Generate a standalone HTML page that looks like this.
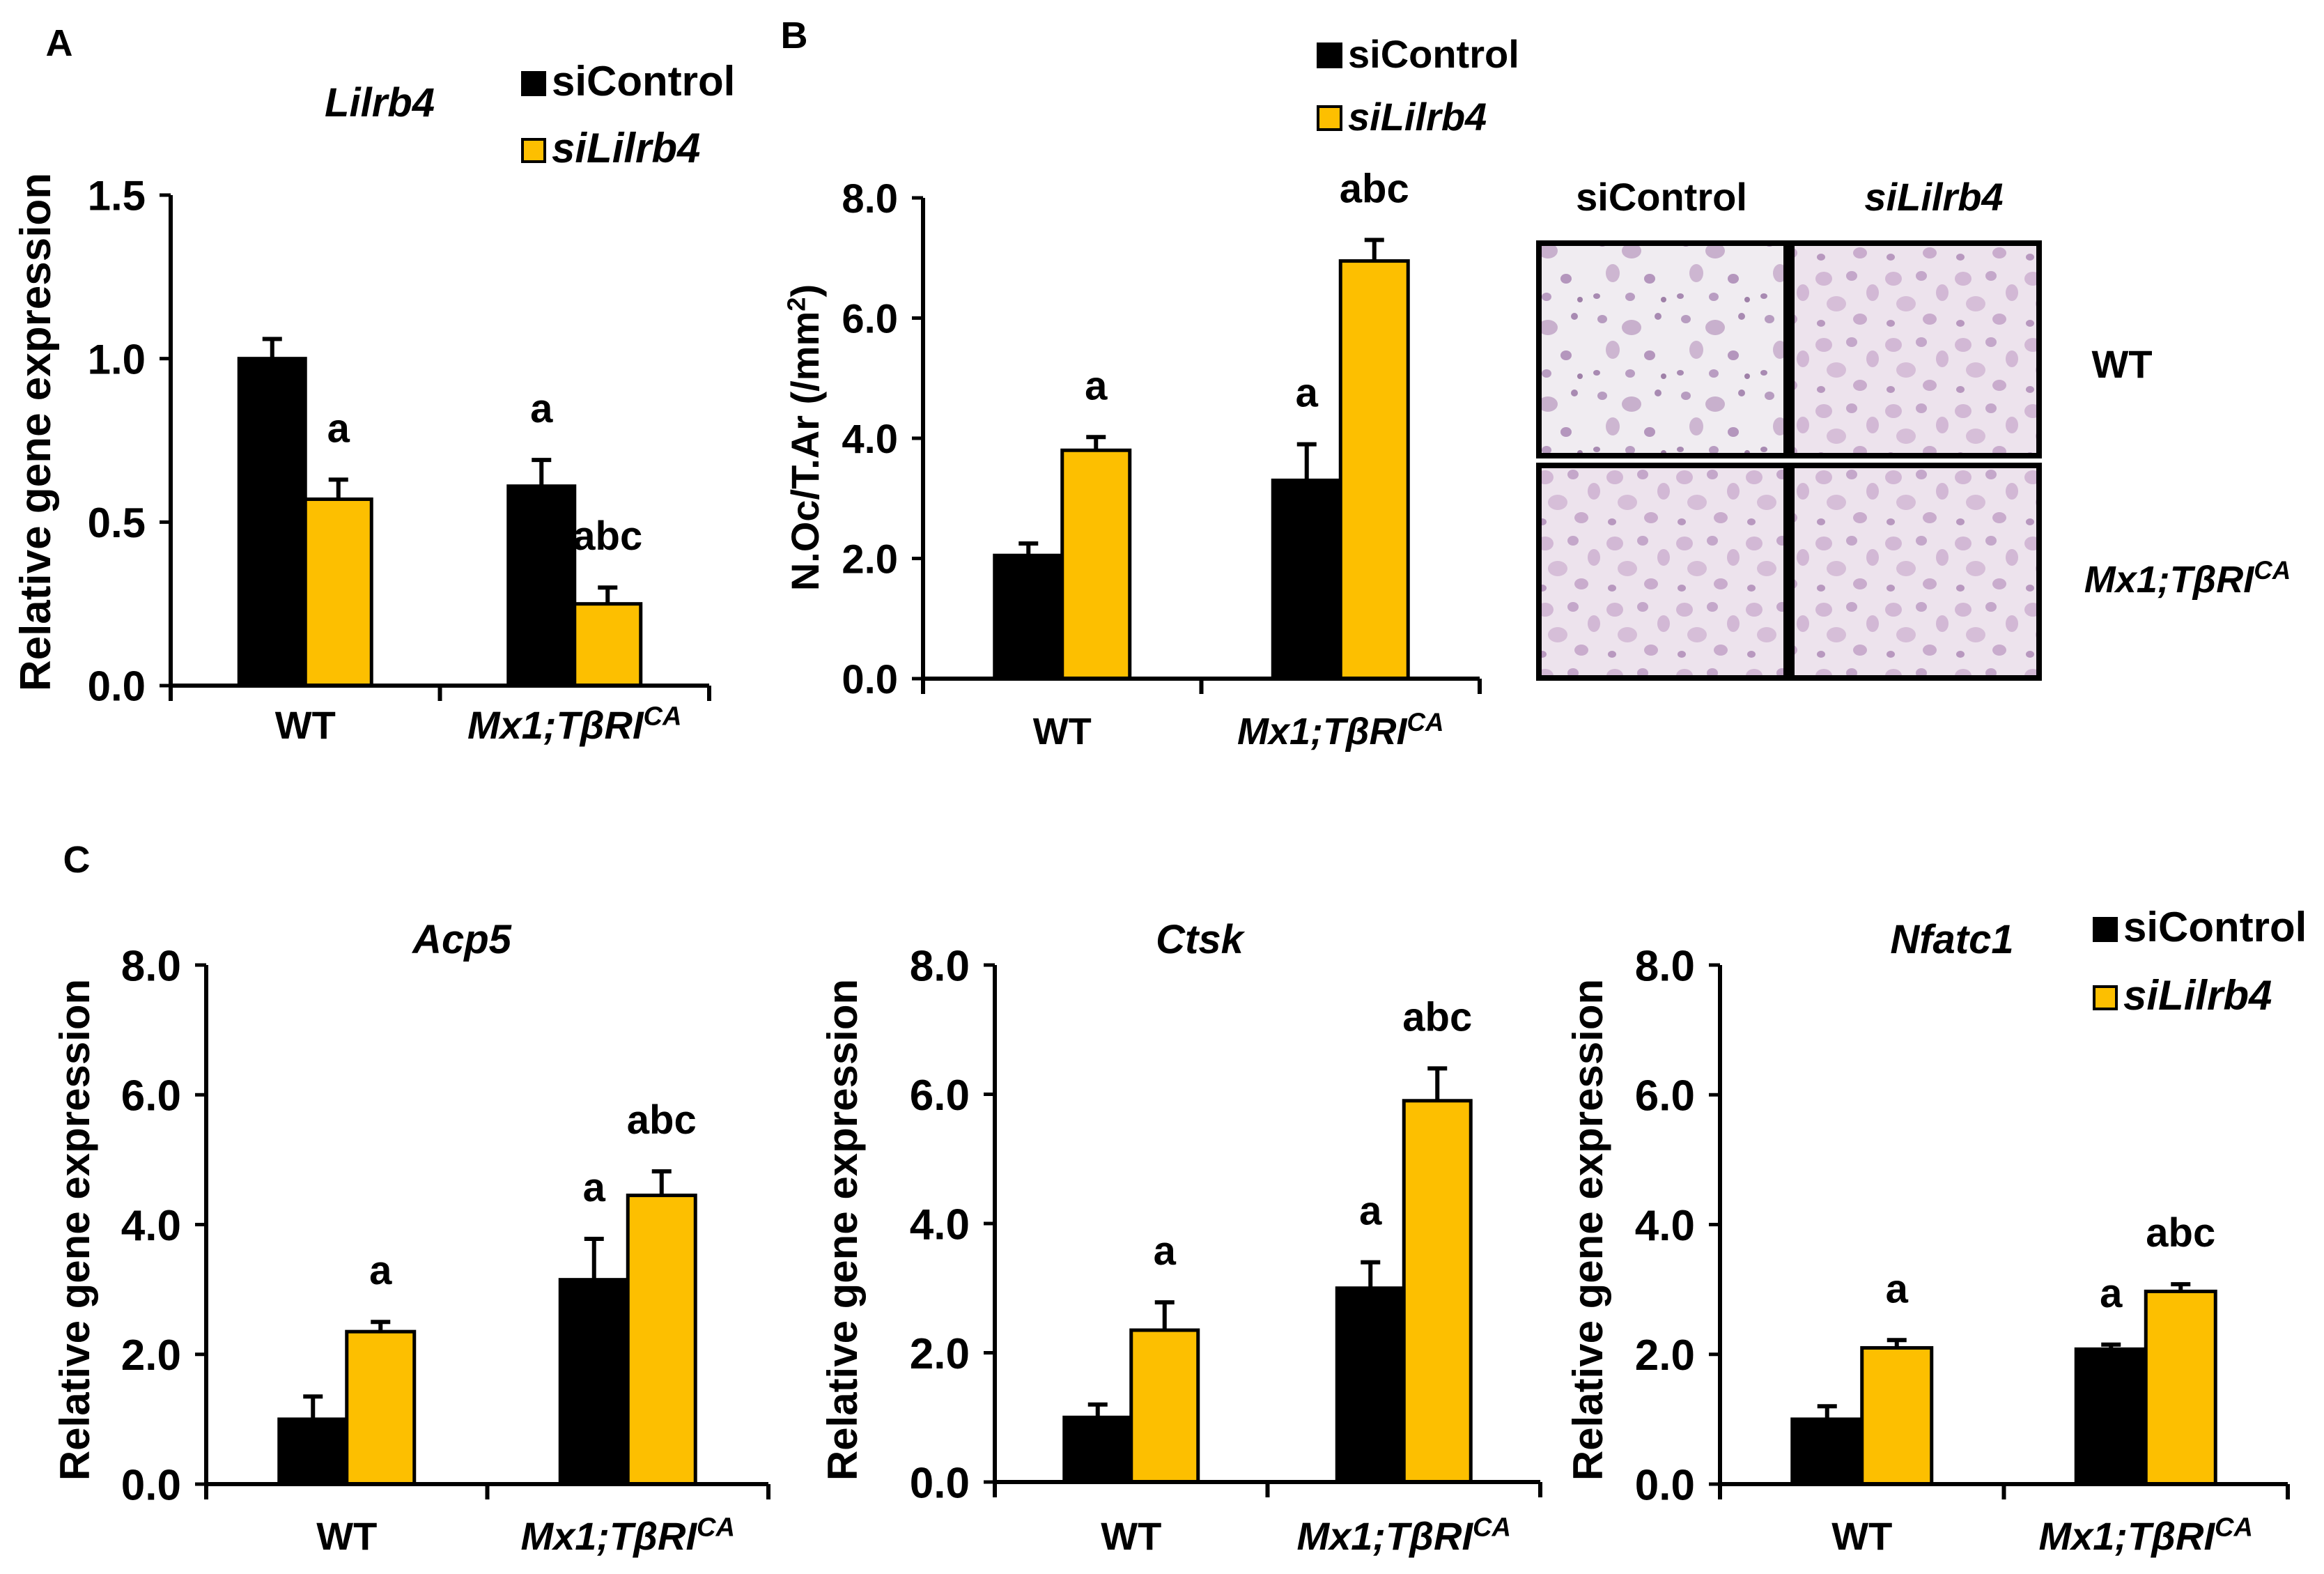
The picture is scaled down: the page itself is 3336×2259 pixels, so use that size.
<!DOCTYPE html>
<html><head><meta charset="utf-8"><title>Lilrb4 figure</title>
<style>
html,body{margin:0;padding:0;background:#fff;}
svg{display:block;}
text{font-family:"Liberation Sans",Arial,sans-serif;font-weight:bold;fill:#000;}
</style></head>
<body>
<svg id="fig" width="3336" height="2259" viewBox="0 0 3336 2259" xmlns="http://www.w3.org/2000/svg">
<defs>
<pattern id="cellsA" width="120" height="110" patternUnits="userSpaceOnUse">
<rect width="120" height="110" fill="#f0ecf1"/>
<ellipse cx="20" cy="18" rx="7" ry="6" fill="#b79cc0"/>
<ellipse cx="62" cy="30" rx="14" ry="11" fill="#c8b0cd"/>
<ellipse cx="100" cy="14" rx="5" ry="5" fill="#a88ab2"/>
<ellipse cx="35" cy="62" rx="10" ry="13" fill="#cdb6d1"/>
<ellipse cx="88" cy="70" rx="8" ry="7" fill="#b496bd"/>
<ellipse cx="12" cy="95" rx="5" ry="4" fill="#a88ab2"/>
<ellipse cx="60" cy="96" rx="7" ry="6" fill="#b99dc2"/>
<ellipse cx="108" cy="100" rx="4" ry="4" fill="#9f80a8"/>
</pattern>
<pattern id="cellsB" width="100" height="95" patternUnits="userSpaceOnUse">
<rect width="100" height="95" fill="#ede3ed"/>
<ellipse cx="18" cy="20" rx="12" ry="10" fill="#d2b8d5"/>
<ellipse cx="58" cy="16" rx="8" ry="7" fill="#c4a7ca"/>
<ellipse cx="88" cy="40" rx="9" ry="12" fill="#d2b8d5"/>
<ellipse cx="36" cy="56" rx="14" ry="11" fill="#d6bed8"/>
<ellipse cx="70" cy="78" rx="10" ry="8" fill="#c9accd"/>
<ellipse cx="14" cy="84" rx="6" ry="5" fill="#b898bf"/>
</pattern>
</defs>
<g id="root"></g>
</svg>
<script>
// ---- data ----
const groups = ["WT", "Mx1;TβRI"];
const seriesNames = ["siControl", "siLilrb4"];
const lilrb4Ctrl = [1.0, 0.61];
const lilrb4Si = [0.57, 0.25];
const lilrb4CtrlErr = [0.06, 0.08];
const lilrb4SiErr = [0.06, 0.05];
const lilrb4Ticks = [0.0, 0.5, 1.0, 1.5];
const nocCtrl = [2.05, 3.3];
const nocSi = [3.8, 6.95];
const nocCtrlErr = [0.2, 0.6];
const nocSiErr = [0.22, 0.35];
const eightTicks = [0.0, 2.0, 4.0, 6.0, 8.0];
const acp5Ctrl = [1.0, 3.15];
const acp5Si = [2.35, 4.45];
const acp5CtrlErr = [0.35, 0.63];
const acp5SiErr = [0.15, 0.37];
const ctskCtrl = [1.0, 3.0];
const ctskSi = [2.35, 5.9];
const ctskCtrlErr = [0.2, 0.4];
const ctskSiErr = [0.43, 0.5];
const nfatc1Ctrl = [1.0, 2.08];
const nfatc1Si = [2.1, 2.97];
const nfatc1CtrlErr = [0.2, 0.07];
const nfatc1SiErr = [0.12, 0.11];
const sigLetters = [["", "a"], ["a", "abc"]];

const NS = "http://www.w3.org/2000/svg";
const root = document.getElementById("root");
function mk(tag, attrs, parent) {
  const e = document.createElementNS(NS, tag);
  for (const k in attrs) e.setAttribute(k, attrs[k]);
  (parent || root).appendChild(e);
  return e;
}
function txt(s, x, y, size, parent, anchor, italic) {
  const t = mk("text", {x: x, y: y, "font-size": size, "text-anchor": anchor || "middle"}, parent);
  if (italic) t.setAttribute("font-style", "italic");
  t.textContent = s;
  return t;
}
function mxLabel(x, y, size, parent) {
  const t = mk("text", {x: x, y: y, "font-size": size, "text-anchor": "middle", "font-style": "italic"}, parent);
  
  
  const a = document.createElementNS(NS, "tspan"); a.textContent = "Mx1;TβRI"; t.appendChild(a);
  const b = document.createElementNS(NS, "tspan"); b.setAttribute("font-size", size * 0.68); b.setAttribute("dy", -size * 0.35); b.textContent = "CA"; t.appendChild(b);
}

function chart(c) {
  const g = mk("g", {});
  
  
  const ys = v => c.y0 - (v / c.ymax) * (c.y0 - c.ytop);
  const gw = (c.xEnd - c.ax) / 2;
  for (let i = 0; i < 2; i++) {
    const cx = c.ax + (i + 0.5) * gw;
    const sets = [[c.ctrl, c.ctrlErr, "#000"], [c.si, c.siErr, "#fdbf00"]];
    for (let s = 0; s < 2; s++) {
      const v = sets[s][0][i], e = sets[s][1][i];
      const x = s === 0 ? cx - c.bw : cx;
      const bx = x + c.bw / 2;
      const ln = mk("path", {d: `M${bx},${ys(v)}V${ys(v + e)}M${bx - 14},${ys(v + e)}H${bx + 14}`, stroke: "#000", "stroke-width": 6, fill: "none"}, g);
      
      
      const r = mk("rect", {x: x, y: ys(v), width: c.bw, height: c.y0 - ys(v), fill: sets[s][2], stroke: "#000", "stroke-width": 5}, g);
      
      
      const L = sigLetters[i][s];
      if (L) {
        const t = txt(L, bx, ys(v + e) - 54, c.lfs, g);
        
        
      }
    }
  }
  const ax = mk("path", {d: `M${c.ax},${c.ytop}V${c.y0}H${c.xEnd}M${c.ax},${c.y0}v22M${(c.ax + c.xEnd) / 2},${c.y0}v22M${c.xEnd},${c.y0}v22`, stroke: "#000", "stroke-width": 6, fill: "none"}, g);
  
  
  c.ticks.forEach(v => {
    const tk = mk("path", {d: `M${c.ax - 16},${ys(v)}H${c.ax}`, stroke: "#000", "stroke-width": 5}, g);
    
    
    const t = txt(v.toFixed(1), c.ax - 36, ys(v) + c.fs * 0.36, c.fs, g, "end");
    
    
  });
  const yt = mk("text", {x: 0, y: 0, "font-size": c.yfs, "text-anchor": "middle", transform: `translate(${c.ytx},${c.yty}) rotate(-90)`}, g);
  
  
  if (c.ytitleSup) {
    const a = document.createElementNS(NS, "tspan"); a.textContent = "N.Oc/T.Ar (/mm"; yt.appendChild(a);
    const b = document.createElementNS(NS, "tspan"); b.setAttribute("font-size", c.yfs * 0.65); b.setAttribute("dy", -c.yfs * 0.35); b.textContent = "2"; yt.appendChild(b);
    const d = document.createElementNS(NS, "tspan"); d.setAttribute("dy", c.yfs * 0.35); d.textContent = ")"; yt.appendChild(d);
  } else yt.textContent = "Relative gene expression";
  const wt = txt("WT", c.ax + 0.5 * gw, c.xly, c.xfs, g);
  
  
  mxLabel(c.ax + 1.5 * gw, c.xly, c.xfs, g);
  if (c.title) {
    const t = txt(c.title, c.titleX, c.titleY, c.tfs, g, "middle", true);
    
    
  }
}
function legend(x, y1, y2, size, sq) {
  const g = mk("g", {});
  
  
  const a = mk("rect", {x: x, y: y1, width: sq, height: sq, fill: "#000"}, g);
  
  
  const t1 = txt("siControl", x + sq + 8, y1 + sq - 1, size, g, "start");
  
  
  const b = mk("rect", {x: x + 2, y: y2 + 2, width: sq - 4, height: sq - 4, fill: "#fdbf00", stroke: "#000", "stroke-width": 4}, g);
  
  
  const t2 = txt("siLilrb4", x + sq + 8, y2 + sq - 1, size, g, "start", true);
  
  
}

// Panel A
chart({name: "chart-lilrb4", ax: 245, xEnd: 1018, y0: 984, ytop: 280, ymax: 1.5, ticks: lilrb4Ticks, bw: 95,
  ctrl: lilrb4Ctrl, si: lilrb4Si, ctrlErr: lilrb4CtrlErr, siErr: lilrb4SiErr, fs: 60, lfs: 58, tfs: 58, yfs: 62, xfs: 56,
  ytx: 72, yty: 620, xly: 1060, title: "Lilrb4", titleX: 545, titleY: 167});
legend(748, 102, 198, 60, 36);
// Panel B
chart({name: "chart-noc", ax: 1325, xEnd: 2124, y0: 974, ytop: 284, ymax: 8, ticks: eightTicks, bw: 97,
  ctrl: nocCtrl, si: nocSi, ctrlErr: nocCtrlErr, siErr: nocSiErr, fs: 58, lfs: 58, tfs: 58, yfs: 56, xfs: 54,
  ytx: 1175, yty: 628, xly: 1068, ytitleSup: true});
legend(1890, 61, 151, 56, 37);
// Panel C
chart({name: "chart-acp5", ax: 296, xEnd: 1103, y0: 2130, ytop: 1385, ymax: 8, ticks: eightTicks, bw: 97,
  ctrl: acp5Ctrl, si: acp5Si, ctrlErr: acp5CtrlErr, siErr: acp5SiErr, fs: 62, lfs: 58, tfs: 58, yfs: 60, xfs: 56,
  ytx: 128, yty: 1765, xly: 2224, title: "Acp5", titleX: 663, titleY: 1368});
chart({name: "chart-ctsk", ax: 1428, xEnd: 2211, y0: 2127, ytop: 1385, ymax: 8, ticks: eightTicks, bw: 96,
  ctrl: ctskCtrl, si: ctskSi, ctrlErr: ctskCtrlErr, siErr: ctskSiErr, fs: 62, lfs: 58, tfs: 58, yfs: 60, xfs: 56,
  ytx: 1230, yty: 1765, xly: 2224, title: "Ctsk", titleX: 1722, titleY: 1368});
chart({name: "chart-nfatc1", ax: 2469, xEnd: 3284, y0: 2130, ytop: 1385, ymax: 8, ticks: eightTicks, bw: 100,
  ctrl: nfatc1Ctrl, si: nfatc1Si, ctrlErr: nfatc1CtrlErr, siErr: nfatc1SiErr, fs: 62, lfs: 58, tfs: 58, yfs: 60, xfs: 56,
  ytx: 2300, yty: 1765, xly: 2224, title: "Nfatc1", titleX: 2802, titleY: 1368});
legend(3004, 1316, 1414, 60, 36);

// panel letters
[["A", 85, 80], ["B", 1140, 69], ["C", 110, 1252]].forEach(p => {
  const t = txt(p[0], p[1], p[2], 54, root);
  
  
});

// micrographs
const boxes = [[2209, 349, "cellsA", "micrograph-wt-sicontrol"], [2572, 349, "cellsB", "micrograph-wt-sililrb4"],
  [2209, 668, "cellsB", "micrograph-mx1-sicontrol"], [2572, 668, "cellsB", "micrograph-mx1-sililrb4"]];
boxes.forEach(b => {
  const r = mk("rect", {x: b[0], y: b[1], width: 355, height: 305, fill: `url(#${b[2]})`, stroke: "#000", "stroke-width": 8});
  
  
});
const h1 = txt("siControl", 2385, 302, 56, root);


const h2 = txt("siLilrb4", 2776, 302, 56, root, "middle", true);


const r1 = txt("WT", 3046, 542, 56, root);


mxLabel(3140, 850, 54, root);
</script>
</body></html>
